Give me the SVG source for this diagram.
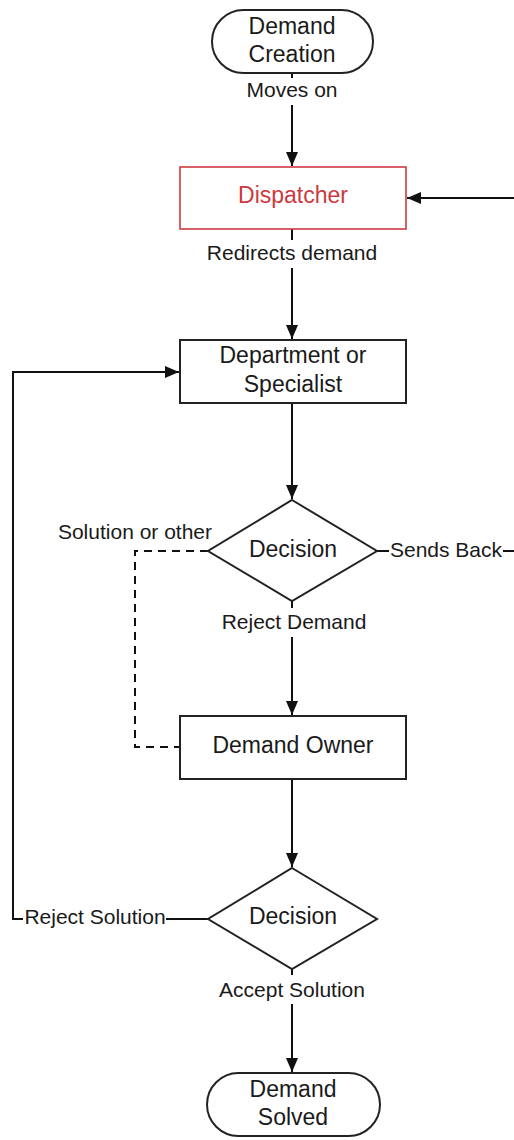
<svg xmlns="http://www.w3.org/2000/svg" width="514" height="1140" viewBox="0 0 514 1140">
<style>
.n{fill:#fff;stroke:#222;stroke-width:2}
.r{fill:#fff;stroke:#cc3a40;stroke-width:1.6}
.t{font-family:"Liberation Sans",Arial,sans-serif;font-size:23px;fill:#1a1a1a;text-anchor:middle}
.l{font-family:"Liberation Sans",Arial,sans-serif;font-size:21px;fill:#1a1a1a;text-anchor:middle}
.c{fill:none;stroke:#111;stroke-width:2}
.d{fill:none;stroke:#111;stroke-width:2;stroke-dasharray:8 6}
</style>
<defs>
<marker id="a" markerWidth="14" markerHeight="12" refX="14" refY="6" orient="auto" markerUnits="userSpaceOnUse">
<path d="M0,0 L14,6 L0,12 Z" fill="#111"/>
</marker>
</defs>
<g id="connectors">
<path class="c" d="M292,73 V78"/>
<path class="c" d="M292,105 V166" marker-end="url(#a)"/>
<path class="c" d="M514,198 H407" marker-end="url(#a)"/>
<path class="c" d="M292,229 V240"/>
<path class="c" d="M292,268 V339" marker-end="url(#a)"/>
<path class="c" d="M292,403 V499" marker-end="url(#a)"/>
<path class="c" d="M377,551 H389"/>
<path class="c" d="M503,551 H514"/>
<path class="d" d="M208,551 H135 V747 H180"/>
<path class="c" d="M292,601 V608"/>
<path class="c" d="M292,637 V715" marker-end="url(#a)"/>
<path class="c" d="M292,779 V867" marker-end="url(#a)"/>
<path class="c" d="M208,919 H166"/>
<path class="c" d="M23,919 H13 V372 H179" marker-end="url(#a)"/>
<path class="c" d="M292,969 V975"/>
<path class="c" d="M292,1004 V1072" marker-end="url(#a)"/>
<text class="l" x="135" y="539">Solution or other</text>
<text class="l" x="292" y="97">Moves on</text>
<text class="l" x="292" y="260">Redirects demand</text>
<text class="l" x="446" y="557">Sends Back</text>
<text class="l" x="294" y="629">Reject Demand</text>
<text class="l" x="95" y="924">Reject Solution</text>
<text class="l" x="292" y="997">Accept Solution</text>
</g>
<g id="demand-creation">
<rect class="n" x="212" y="10" width="161" height="63" rx="31.5"/>
<text class="t" x="292" y="34">Demand</text>
<text class="t" x="292" y="62">Creation</text>
</g>
<g id="dispatcher">
<rect class="r" x="180" y="167" width="226" height="62"/>
<text class="t" x="293" y="203" style="fill:#cc3a40">Dispatcher</text>
</g>
<g id="department">
<rect class="n" x="180" y="340" width="226" height="63"/>
<text class="t" x="293" y="363">Department or</text>
<text class="t" x="293" y="392">Specialist</text>
</g>
<g id="decision1">
<polygon class="n" points="292,500 377,551 292,601 208,551"/>
<text class="t" x="293" y="557">Decision</text>
</g>
<g id="demand-owner">
<rect class="n" x="180" y="716" width="226" height="63"/>
<text class="t" x="293" y="753">Demand Owner</text>
</g>
<g id="decision2">
<polygon class="n" points="292,868 377,919 292,969 208,919"/>
<text class="t" x="293" y="924">Decision</text>
</g>
<g id="demand-solved">
<rect class="n" x="207" y="1073" width="173" height="63" rx="31.5"/>
<text class="t" x="293" y="1097">Demand</text>
<text class="t" x="293" y="1125">Solved</text>
</g>
</svg>
